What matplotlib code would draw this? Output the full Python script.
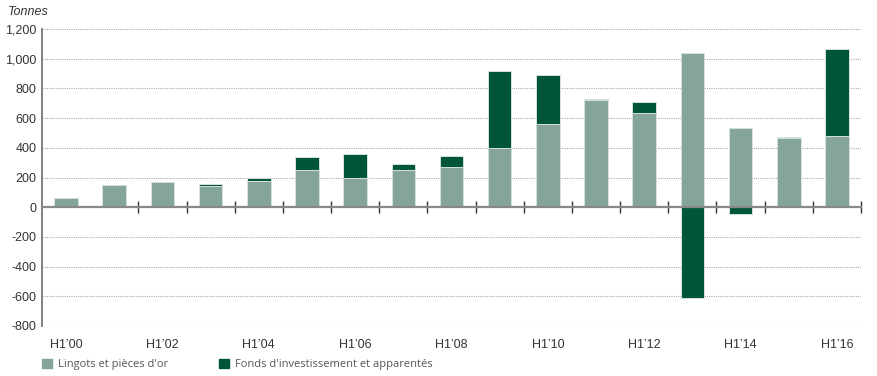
import matplotlib.pyplot as plt
from matplotlib.ticker import FuncFormatter
from matplotlib.patches import Patch

years = ["H1\u2019%02d" % y for y in range(0, 17)]
lingots = [59, 150, 170, 140, 178, 250, 200, 250, 268, 396, 557, 720, 636, 1036, 530, 465, 481]
fonds = [0, 0, 0, 13, 22, 87, 160, 40, 78, 523, 333, 10, 74, -611, -49, 9, 582]

light = "#84a598"
dark = "#00553a"
grey_txt = "#333333"

plt.rcParams["font.family"] = ["Liberation Sans", "DejaVu Sans"]

fig = plt.figure(figsize=(8.77, 3.76), dpi=100)
ax = fig.add_axes([42 / 877, 50 / 376, 819 / 877, 297 / 376])

x = list(range(len(years)))
ax.bar(x, lingots, width=0.49, color=light, edgecolor="#d5e2db", linewidth=0.7, zorder=3)
# negative fund flows hang below zero, positive ones stack on the lingots
bottoms = [l if f > 0 else 0 for l, f in zip(lingots, fonds)]
ax.bar(x, fonds, width=0.49, bottom=bottoms, color=dark, edgecolor="#d5e2db", linewidth=0.7, zorder=3)

ax.set_xlim(-0.5, len(years) - 0.5)
ax.set_ylim(-800, 1200)
ax.set_yticks(range(-800, 1201, 200))
ax.yaxis.set_major_formatter(FuncFormatter(lambda v, p: "{:,.0f}".format(v)))
ax.tick_params(axis="y", length=0, pad=4, labelsize=9, labelcolor=grey_txt)

for v in range(-800, 1201, 200):
    if v != 0:
        ax.axhline(v, color="#aaaaaa", linewidth=0.8, linestyle=(0, (1, 1)), zorder=1)

for s in ["top", "right"]:
    ax.spines[s].set_visible(False)
ax.spines["left"].set_color("#777777")
ax.spines["left"].set_linewidth(1.3)
ax.spines["bottom"].set_position(("data", 0))
ax.spines["bottom"].set_color("#888888")
ax.spines["bottom"].set_linewidth(1.6)
ax.spines["bottom"].set_zorder(4)
ax.set_xticks([i + 0.5 for i in range(1, len(years))])
ax.tick_params(axis="x", direction="inout", length=8, width=1, color="#333333", labelbottom=False)

sec = ax.secondary_xaxis(0)
sec.set_xticks(x[::2])
sec.set_xticklabels(years[::2])
sec.spines["bottom"].set_visible(False)
sec.tick_params(length=0, pad=9, labelsize=9, labelcolor=grey_txt)

fig.text(8 / 877, 1 - 12 / 376, "Tonnes", style="italic", fontsize=9, color=grey_txt, va="center")

handles = [Patch(color=light), Patch(color=dark)]
fig.legend(handles, ["Lingots et pi\u00e8ces d'or", "Fonds d'investissement et apparent\u00e9s"],
           loc="lower left", bbox_to_anchor=(42 / 877, 6 / 376), ncol=2, frameon=False,
           borderpad=0, borderaxespad=0,
           handlelength=0.9, handleheight=0.9, handletextpad=0.55, columnspacing=4.6,
           prop={"family": "Open Sans", "size": 8}, labelcolor="#555555")

fig.savefig("out.png", dpi=100)
